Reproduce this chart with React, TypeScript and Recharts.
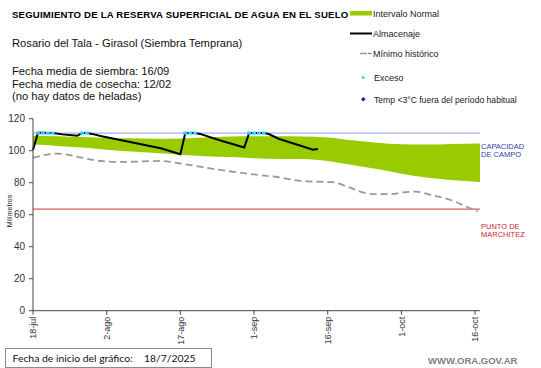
import React from 'react';
import { ComposedChart, Area, Line, Scatter, XAxis, YAxis, ReferenceLine } from 'recharts';

// ---- data (day 0 = 18-jul) ----
const tickDays = [0, 15, 30, 45, 60, 75, 90];
const tickLabels = ['18-jul', '2-ago', '17-ago', '1-sep', '16-sep', '1-oct', '16-oct'];
const yTicks = [0, 20, 40, 60, 80, 100, 120];

const bandDays = [0, 5, 10, 15, 20, 25, 30, 35, 40, 45, 50, 55, 60, 65, 70, 75, 80, 85, 91];
const bandHigh = [109.5, 109, 108.5, 108, 107.8, 107.5, 107.7, 108.2, 108.8, 109, 109, 108.8, 108.3, 106.5, 105, 104, 103.8, 104.2, 104.5];
const bandLow = [103.8, 103, 102, 100.6, 99.5, 98.5, 97.5, 96.6, 96, 95.3, 94.8, 94.8, 93.5, 91, 88.5, 85.6, 83.2, 81.7, 80.5];

const minDays = [0, 5, 10, 13, 18, 26, 30, 34, 38, 42, 46, 50, 54, 58, 61, 64, 69, 73, 75, 78, 81, 85, 89, 90.6];
const minVals = [95.6, 98.2, 95.6, 93.8, 93, 93.6, 92, 90, 88, 86.3, 84.8, 83.4, 81.3, 80.6, 80.3, 77.5, 72.9, 72.9, 73.8, 74.4, 72.3, 69.2, 64, 62];

const storeDays = [0, 1, 2, 3, 4, 6, 9, 10, 11, 12, 14, 18, 22, 26, 30, 31, 32, 33, 34, 38, 43, 44, 45, 46, 47, 48, 50, 54, 57, 58];
const storeVals = [100.4, 111.2, 111.2, 111, 111, 110.2, 109.3, 111, 111, 110.5, 109, 106.5, 104, 101.5, 97.8, 111, 111, 111, 110.5, 106.5, 102, 111, 111, 111, 111, 110.4, 107.5, 103.6, 100.6, 101];

const excessDays = [1, 2, 3, 4, 10, 11, 31, 32, 33, 44, 45, 46, 47];
const excessLevel = 111;
const fieldCapacity = 111;
const wiltingPoint = 63.5;

// ---- table built from the arrays ----
type Row = { day: number; band?: [number, number]; min?: number; store?: number };
const rowMap = new Map<number, Row>();
const getRow = (d: number) => {
  if (!rowMap.has(d)) rowMap.set(d, { day: d });
  return rowMap.get(d)!;
};
bandDays.forEach((d, i) => { getRow(d).band = [bandLow[i], bandHigh[i]]; });
minDays.forEach((d, i) => { getRow(d).min = minVals[i]; });
storeDays.forEach((d, i) => { getRow(d).store = storeVals[i]; });
const rows = Array.from(rowMap.values()).sort((a, b) => a.day - b.day);
const excessData = excessDays.map((d) => ({ day: d, exc: excessLevel }));

const FONT = '"Liberation Sans", Arial, sans-serif';

const XTick = (props: any) => {
  const { x, y, payload } = props;
  const idx = tickDays.indexOf(payload.value);
  return (
    <g transform={`translate(${x},${y})`}>
      <text transform="rotate(-90)" x={0} y={0} dy="0.35em" textAnchor="end" fontSize={9} fill="#333" fontFamily={FONT}>
        {idx >= 0 ? tickLabels[idx] : ''}
      </text>
    </g>
  );
};

const ExcessShape = (props: any) => {
  const { cx, cy } = props;
  if (cx == null || cy == null) return <g />;
  return <rect x={cx - 2} y={cy - 1.5} width={4} height={3} fill="#33CCFF" />;
};

export default function App() {
  return (
    <div style={{ position: 'absolute', left: 0, top: 0, width: 541, height: 368, background: '#fff', fontFamily: FONT }}>
      <ComposedChart width={541} height={368} data={rows} margin={{ top: 118.7, right: 61, bottom: 17.3, left: 0 }}>
        <XAxis
          dataKey="day"
          type="number"
          domain={[0, 91]}
          ticks={tickDays}
          interval={0}
          height={40}
          tick={<XTick />}
          tickSize={4}
          tickMargin={2}
          axisLine={{ stroke: '#444' }}
          tickLine={{ stroke: '#444' }}
        />
        <YAxis
          type="number"
          domain={[0, 120]}
          ticks={yTicks}
          width={33}
          tickSize={4}
          tickMargin={4}
          axisLine={{ stroke: '#444' }}
          tickLine={{ stroke: '#444' }}
          tick={{ fontSize: 10, fill: '#333', fontFamily: FONT }}
        />
        <Area dataKey="band" type="monotone" stroke="none" fill="#99CC00" fillOpacity={1} connectNulls isAnimationActive={false} />
        <ReferenceLine y={fieldCapacity} stroke="#8C9EE0" strokeWidth={1} />
        <ReferenceLine y={wiltingPoint} stroke="#CC3333" strokeWidth={1} />
        <Line dataKey="min" type="monotone" stroke="#9A9A9A" strokeWidth={1.8} strokeDasharray="7 4" dot={false} connectNulls isAnimationActive={false} />
        <Line dataKey="store" type="linear" stroke="#000" strokeWidth={2} dot={false} connectNulls isAnimationActive={false} />
        <Scatter data={excessData} dataKey="exc" shape={<ExcessShape />} isAnimationActive={false} />
      </ComposedChart>

      <svg width={541} height={368} style={{ position: 'absolute', left: 0, top: 0, pointerEvents: 'none' }} fontFamily={FONT}>
        <text x={12} y={18} fontSize={9.6} fontWeight="bold" letterSpacing={0.2} fill="#000">SEGUIMIENTO DE LA RESERVA  SUPERFICIAL DE AGUA EN EL SUELO</text>
        <text x={12} y={47} fontSize={11.2} fill="#111">Rosario del Tala - Girasol (Siembra Temprana)</text>
        <text x={12} y={75} fontSize={11.2} fill="#111">Fecha media de siembra: 16/09</text>
        <text x={12} y={87.5} fontSize={11.2} fill="#111">Fecha media de cosecha: 12/02</text>
        <text x={12} y={100} fontSize={11.2} fill="#111">(no hay  datos de heladas)</text>

        {/* legend */}
        <rect x={350} y={11} width={22} height={4.5} fill="#99CC00" />
        <text x={373} y={16.5} fontSize={9} fill="#222">Intervalo Normal</text>
        <line x1={350} y1={33.5} x2={372} y2={33.5} stroke="#000" strokeWidth={2} />
        <text x={373} y={37} fontSize={9} fill="#222">Almacenaje</text>
        <line x1={360} y1={53.5} x2={367} y2={53.5} stroke="#9A9A9A" strokeWidth={1.5} />
        <line x1={368} y1={53.5} x2={371.5} y2={53.5} stroke="#777" strokeWidth={1.2} />
        <text x={373} y={57} fontSize={9} fill="#222">Mínimo histórico</text>
        <rect x={362} y={76.3} width={2.5} height={2.5} fill="#33CCFF" />
        <text x={374} y={81} fontSize={9} fill="#222">Exceso</text>
        <path d="M363.3,97 L365.6,99.3 L363.3,101.6 L361,99.3 Z" fill="#1A1AA0" />
        <text x={374} y={103} fontSize={8.6} fill="#222">Temp &lt;3°C fuera del período habitual</text>

        {/* y label */}
        <text transform="translate(12,211) rotate(-90)" textAnchor="middle" fontSize={7} fill="#222">Milímetros</text>

        {/* right labels */}
        <text x={481} y={148.5} fontSize={7.5} fill="#3040A8">CAPACIDAD</text>
        <text x={481} y={157} fontSize={7.5} fill="#3040A8">DE  CAMPO</text>
        <text x={481} y={228.5} fontSize={7.5} fill="#D0203C">PUNTO  DE</text>
        <text x={481} y={237} fontSize={7.5} fill="#D0203C">MARCHITEZ</text>

        {/* bottom box */}
        <rect x={5.5} y={348.5} width={206} height={19} fill="#fff" stroke="#8A8A8A" strokeWidth={1} />
        <text x={12.5} y={362} fontSize={10.4} fill="#111" fontFamily="Lato, 'Open Sans', sans-serif">Fecha de inicio del gráfico:</text>
        <text x={144} y={362} fontSize={10.4} fill="#111" fontFamily="Lato, 'Open Sans', sans-serif">18/7/2025</text>

        <text x={428} y={363.5} fontSize={9.5} fontWeight="bold" fill="#7F7F7F">WWW.ORA.GOV.AR</text>
      </svg>
    </div>
  );
}
